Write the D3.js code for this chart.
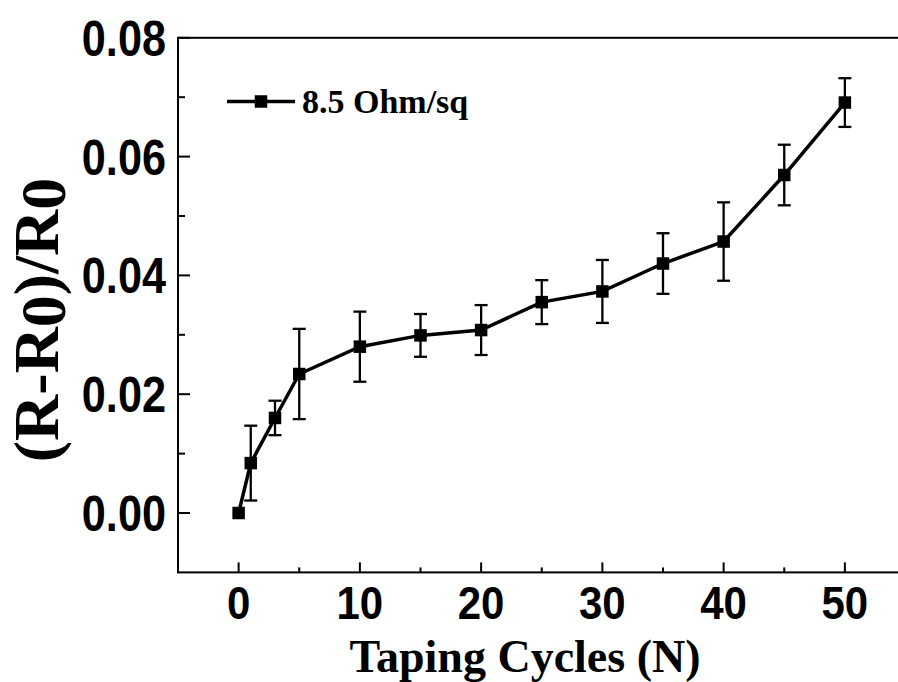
<!DOCTYPE html>
<html>
<head>
<meta charset="utf-8">
<script src="https://cdn.jsdelivr.net/npm/d3@7"></script>
<style>
  html, body { margin: 0; padding: 0; background: #fff; overflow: hidden; }
  svg { display: block; }
</style>
</head>
<body>
<svg id="chart" width="898" height="682"></svg>
<script>
// ---- data ----
const cycles = [0, 1, 3, 5, 10, 15, 20, 25, 30, 35, 40, 45, 50];
const values = [0.0000, 0.0084, 0.0160, 0.0234, 0.0280, 0.0299, 0.0308, 0.0355, 0.0373, 0.0420, 0.0457, 0.0569, 0.0691];
const errors = [0.0000, 0.0063, 0.0029, 0.0076, 0.0059, 0.0036, 0.0042, 0.0037, 0.0053, 0.0051, 0.0066, 0.0051, 0.0041];
const xTicks = [0, 10, 20, 30, 40, 50];
const xMinorTicks = [5, 15, 25, 35, 45];
const yTicks = [0.00, 0.02, 0.04, 0.06, 0.08];
const yMinorTicks = [0.01, 0.03, 0.05, 0.07];
const seriesName = "8.5 Ohm/sq";

const svg = d3.select("#chart");
const x = d3.scaleLinear().domain([-5, 55]).range([178, 905.5]);
const y = d3.scaleLinear().domain([-0.01, 0.08]).range([572.4, 37.8]);

// frame (right side falls outside the picture)
svg.append("rect")
  .attr("x", x(-5)).attr("y", y(0.08))
  .attr("width", x(55) - x(-5)).attr("height", y(-0.01) - y(0.08))
  .attr("fill", "none").attr("stroke", "#000").attr("stroke-width", 2);

const sansBold = "'Liberation Sans', Arial, sans-serif";
const serif = "'Liberation Serif', 'Times New Roman', serif";

// x axis ticks (inward)
const gx = svg.append("g").attr("transform", `translate(0,${y(-0.01)})`);
gx.selectAll("line.maj").data(xTicks).join("line")
  .attr("x1", d => x(d)).attr("x2", d => x(d)).attr("y1", 0).attr("y2", -10)
  .attr("stroke", "#000").attr("stroke-width", 2);
gx.selectAll("line.min").data(xMinorTicks).join("line")
  .attr("x1", d => x(d)).attr("x2", d => x(d)).attr("y1", 0).attr("y2", -5)
  .attr("stroke", "#000").attr("stroke-width", 2);
gx.selectAll("text").data(xTicks).join("text")
  .attr("transform", d => `translate(${x(d)},47) scale(1,1.08)`)
  .attr("text-anchor", "middle")
  .attr("font-family", sansBold)
  .attr("font-weight", "bold").attr("font-size", 42)
  .text(d => d3.format("d")(d));

// y axis ticks (inward)
const gy = svg.append("g").attr("transform", `translate(${x(-5)},0)`);
gy.selectAll("line.maj").data(yTicks).join("line")
  .attr("x1", 0).attr("x2", 12).attr("y1", d => y(d)).attr("y2", d => y(d))
  .attr("stroke", "#000").attr("stroke-width", 2);
gy.selectAll("line.min").data(yMinorTicks).join("line")
  .attr("x1", 0).attr("x2", 7).attr("y1", d => y(d)).attr("y2", d => y(d))
  .attr("stroke", "#000").attr("stroke-width", 2);
gy.selectAll("text").data(yTicks).join("text")
  .attr("transform", d => `translate(-12,${y(d) + 18}) scale(1.03,1.2)`)
  .attr("text-anchor", "end")
  .attr("font-family", sansBold)
  .attr("font-weight", "bold").attr("font-size", 42)
  .text(d => d3.format(".2f")(d));

// axis titles
svg.append("text")
  .attr("x", 525).attr("y", 671.5)
  .attr("text-anchor", "middle")
  .attr("font-family", serif)
  .attr("font-weight", "bold").attr("font-size", 46)
  .text("Taping Cycles (N)");

const yt = svg.append("text")
  .attr("transform", "translate(58,320) rotate(-90)")
  .attr("text-anchor", "middle")
  .attr("font-family", serif)
  .attr("font-weight", "bold").attr("font-size", 64);
yt.append("tspan").text("(R-R");
yt.append("tspan").attr("dy", 7).text("0");
yt.append("tspan").attr("dy", -7).text(")/R");
yt.append("tspan").attr("dy", 7).text("0");

// error bars
const capW = 6.5;
const eb = svg.append("g").attr("stroke", "#000").attr("stroke-width", 2.3);
cycles.forEach((c, i) => {
  if (errors[i] <= 0) return;
  const cx = x(c), yt0 = y(values[i] + errors[i]), yb0 = y(values[i] - errors[i]);
  eb.append("line").attr("x1", cx).attr("x2", cx).attr("y1", yt0).attr("y2", yb0);
  eb.append("line").attr("x1", cx - capW).attr("x2", cx + capW).attr("y1", yt0).attr("y2", yt0);
  eb.append("line").attr("x1", cx - capW).attr("x2", cx + capW).attr("y1", yb0).attr("y2", yb0);
});

// line
const pts = cycles.map((c, i) => [c, values[i]]);
svg.append("path")
  .attr("d", d3.line().x(d => x(d[0])).y(d => y(d[1]))(pts))
  .attr("fill", "none").attr("stroke", "#000").attr("stroke-width", 3.5);

// markers
const ms = 12.5;
svg.selectAll("rect.mk").data(pts).join("rect")
  .attr("class", "mk")
  .attr("x", d => x(d[0]) - ms / 2).attr("y", d => y(d[1]) - ms / 2)
  .attr("width", ms).attr("height", ms).attr("fill", "#000");

// legend
const lg = svg.append("g");
lg.append("line").attr("x1", 227).attr("x2", 295).attr("y1", 101.5).attr("y2", 101.5)
  .attr("stroke", "#000").attr("stroke-width", 3.5);
lg.append("rect").attr("x", 261 - ms / 2).attr("y", 101.5 - ms / 2)
  .attr("width", ms).attr("height", ms).attr("fill", "#000");
lg.append("text").attr("x", 302).attr("y", 112.5)
  .attr("font-family", serif)
  .attr("font-weight", "bold").attr("font-size", 34)
  .text(seriesName);
</script>
</body>
</html>
